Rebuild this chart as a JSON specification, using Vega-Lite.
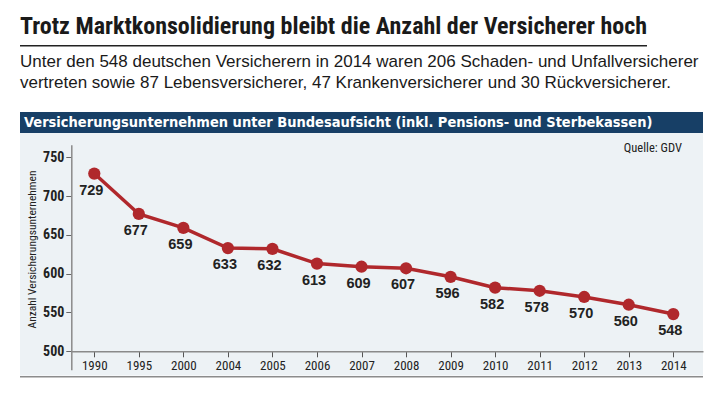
{
  "$schema": "https://vega.github.io/schema/vega-lite/v6.json",
  "background": "white",
  "padding": {"left": 20, "top": 15, "right": 9, "bottom": 14},
  "config": {"view": {"stroke": null}},
  "title": {
    "text": "Trotz Marktkonsolidierung bleibt die Anzahl der Versicherer hoch",
    "anchor": "start", "frame": "group",
    "font": "Roboto Condensed, DejaVu Sans Condensed, sans-serif",
    "fontSize": 24, "fontWeight": "bold", "color": "#1a1a1a", "offset": 6
  },
  "spacing": 21,
  "vconcat": [
    {
      "width": 627, "height": 1.5,
      "data": {"values": [{}]},
      "mark": {"type": "rect", "color": "#222222"},
      "title": {
        "text": ["Unter den 548 deutschen Versicherern in 2014 waren 206 Schaden- und Unfallversicherer", "vertreten sowie 87 Lebensversicherer, 47 Krankenversicherer und 30 Rückversicherer."],
        "orient": "bottom", "anchor": "start", "frame": "group",
        "font": "Liberation Sans, sans-serif", "fontSize": 17, "fontWeight": "normal",
        "color": "#1a1a1a", "lineHeight": 21.5, "offset": 7
      }
    },
    {
      "spacing": 0,
      "vconcat": [
        {
          "width": 683, "height": 21,
          "data": {"values": [{}]},
          "mark": {"type": "rect", "color": "#173f66"},
          "title": {
            "text": "Versicherungsunternehmen unter Bundesaufsicht (inkl. Pensions- und Sterbekassen)",
            "orient": "top", "anchor": "start", "frame": "group", "offset": -18, "dx": 4,
            "color": "white", "font": "DejaVu Sans Condensed, sans-serif",
            "fontSize": 14.5, "fontWeight": "bold"
          }
        },
        {
          "width": 683, "height": 242.5,
          "view": {"fill": "#edf2f5", "stroke": null},
          "data": {"values": [
            {"Jahr": "1990", "Anzahl": 729},
            {"Jahr": "1995", "Anzahl": 677},
            {"Jahr": "2000", "Anzahl": 659},
            {"Jahr": "2004", "Anzahl": 633},
            {"Jahr": "2005", "Anzahl": 632},
            {"Jahr": "2006", "Anzahl": 613},
            {"Jahr": "2007", "Anzahl": 609},
            {"Jahr": "2008", "Anzahl": 607},
            {"Jahr": "2009", "Anzahl": 596},
            {"Jahr": "2010", "Anzahl": 582},
            {"Jahr": "2011", "Anzahl": 578},
            {"Jahr": "2012", "Anzahl": 570},
            {"Jahr": "2013", "Anzahl": 560},
            {"Jahr": "2014", "Anzahl": 548}
          ]},
          "title": {
            "text": "Quelle: GDV", "orient": "top", "anchor": "end", "frame": "group",
            "offset": -21, "dx": -21, "color": "#222222",
            "font": "Roboto Condensed, DejaVu Sans Condensed, sans-serif",
            "fontSize": 12.5, "fontWeight": "normal"
          },
          "encoding": {
            "x": {
              "field": "Jahr", "type": "ordinal", "sort": null,
              "scale": {"type": "point", "range": [51.3, 683], "padding": 0.5916, "align": 0.436},
              "axis": {
                "title": null, "offset": -24.2, "grid": false, "labelAngle": 0,
                "domainColor": "#8a8a8a", "domainWidth": 1.5,
                "tickColor": "#555555", "tickSize": 5.5, "tickWidth": 1,
                "labelFont": "Roboto Condensed, DejaVu Sans Condensed, sans-serif",
                "labelFontSize": 13, "labelColor": "#222222", "labelPadding": 3
              }
            },
            "y": {
              "field": "Anzahl", "type": "quantitative",
              "scale": {"domain": [476.3, 766.2], "range": [236.7, 11.7], "nice": false, "zero": false},
              "axis": {
                "title": "Anzahl Versicherungsunternehmen", "offset": -51.3,
                "values": [500, 550, 600, 650, 700, 750], "grid": false,
                "domainColor": "#8a8a8a", "domainWidth": 1.5,
                "tickColor": "#666666", "tickSize": 5.5, "tickWidth": 1,
                "labelFont": "Roboto Condensed, DejaVu Sans Condensed, sans-serif",
                "labelFontWeight": "bold", "labelFontSize": 14, "labelColor": "#222222", "labelPadding": 2,
                "titleFont": "Roboto Condensed, DejaVu Sans Condensed, sans-serif",
                "titleFontSize": 11.5, "titleFontWeight": "normal", "titleColor": "#222222",
                "titlePadding": 5, "titleY": 116
              }
            }
          },
          "layer": [
            {"mark": {"type": "line", "color": "#b0282c", "strokeWidth": 3.5}},
            {"mark": {"type": "point", "filled": true, "opacity": 1, "size": 150, "color": "#b0282c"}},
            {
              "mark": {"type": "text", "dy": 17, "dx": -3, "font": "Liberation Sans, sans-serif", "fontWeight": "bold", "fontSize": 14.5, "color": "#222222"},
              "encoding": {"text": {"field": "Anzahl", "type": "quantitative"}}
            }
          ]
        },
        {
          "width": 683, "height": 1.5,
          "data": {"values": [{}]},
          "mark": {"type": "rect", "color": "#8c8c8c"}
        }
      ]
    }
  ]
}
